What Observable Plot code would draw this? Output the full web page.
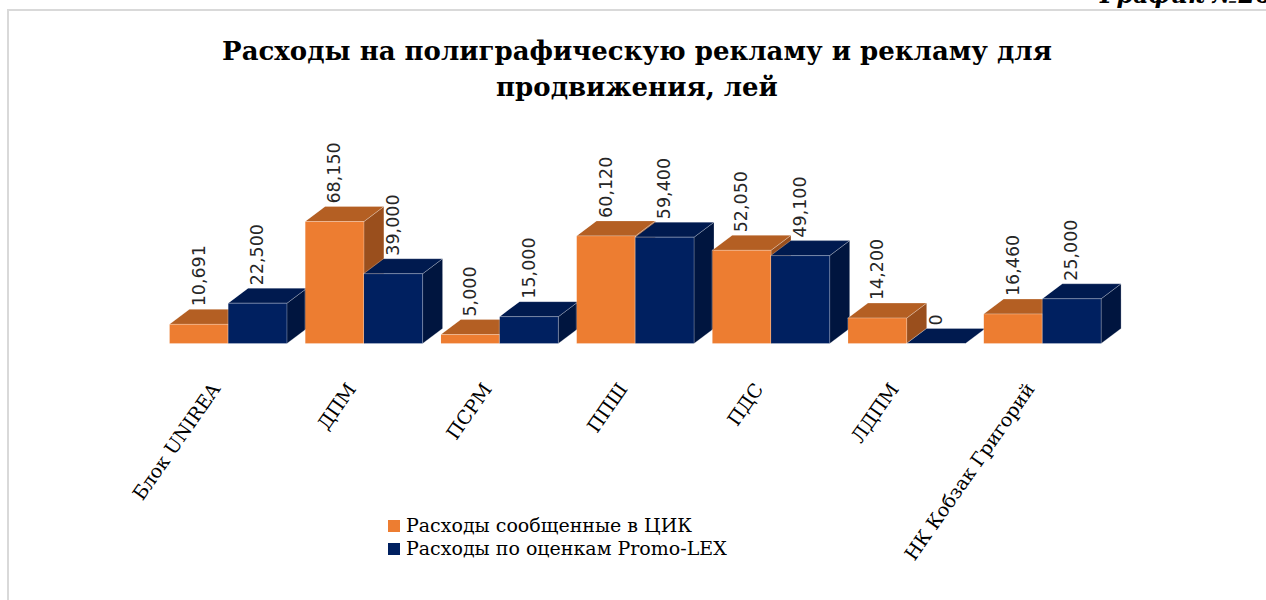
<!DOCTYPE html>
<html><head><meta charset="utf-8">
<script src="https://cdn.jsdelivr.net/npm/d3@7"></script>
<script src="https://cdn.jsdelivr.net/npm/@observablehq/plot@0.6"></script>
<style>
body{margin:0;background:#fff;width:1266px;height:600px;overflow:hidden;position:relative;font-family:"DejaVu Serif",serif}
#frame{position:absolute;left:7px;top:9px;width:1300px;height:620px;border-left:2px solid #d9d9d9;border-top:2px solid #d9d9d9;box-sizing:border-box}
#fig{position:absolute;right:-6px;top:-20px;font:bold italic 24px "DejaVu Serif",serif;color:#000;white-space:nowrap}
#chart{position:absolute;left:0;top:0}
#title{position:absolute;left:0;width:1274px;top:33px;text-align:center;font:bold 26px "DejaVu Serif",serif;line-height:36px;color:#000}
#legend{position:absolute;left:388px;top:514px;font:19px "DejaVu Serif",serif;line-height:23px;color:#000}
#legend div{display:flex;align-items:center;white-space:nowrap}
#legend span.sw{display:inline-block;width:12px;height:12px;margin-right:6px}
</style></head>
<body>
<div id="frame"></div>
<div id="fig">График №26</div>
<div id="chart"></div>
<div id="title">Расходы на полиграфическую рекламу и рекламу для<br>продвижения, лей</div>
<div id="legend"></div>
<script>
const categories = ["Блок UNIREA","ДПМ","ПСРМ","ППШ","ПДС","ЛДПМ","НК Кобзак Григорий"];
const cikValues = [10691,68150,5000,60120,52050,14200,16460];
const promoValues = [22500,39000,15000,59400,49100,0,25000];
const seriesNames = ["Расходы сообщенные в ЦИК","Расходы по оценкам Promo-LEX"];
const frontColors = ["#ED7D31","#002060"];
const topColors = ["#B45F23","#001A4F"];
const sideColors = ["#9A4F1D","#00153F"];

const series = [cikValues, promoValues];
const pad = 0.135, bw = (1 - pad) / 2;
const DX = 0.147, DY = 8380; // depth of the 3D box, in scale units

const polys = [];
const labels = [];
categories.forEach((c, i) => {
  series.forEach((vals, s) => {
    const v = vals[i];
    const x0 = i + pad / 2 + s * bw, x1 = x0 + bw;
    const faces = [
      ["side", sideColors[s], [[x1,0],[x1+DX,DY],[x1+DX,v+DY],[x1,v]]],
      ["top", topColors[s], [[x0,v],[x1,v],[x1+DX,v+DY],[x0+DX,v+DY]]],
      ["front", frontColors[s], [[x0,0],[x1,0],[x1,v],[x0,v]]]
    ];
    faces.forEach(([f, col, pts]) => {
      const id = `${i}-${s}-${f}`;
      pts.forEach(([x, y]) => polys.push({id, x, y, color: col}));
    });
    labels.push({x: (x0 + x1) / 2, y: v + DY, text: d3.format(",")(v)});
  });
});

const chart = Plot.plot({
  width: 1266, height: 600,
  marginLeft: 159.9, marginRight: 156.2, marginTop: 164, marginBottom: 257,
  x: {domain: [0, 7], axis: null},
  y: {domain: [0, 100000], axis: null},
  color: {type: "identity"},
  style: {background: "transparent", overflow: "visible"},
  marks: [
    Plot.line(polys, {x: "x", y: "y", z: "id", fill: "color", stroke: "#ffffff", strokeOpacity: 0.3, strokeWidth: 0.8, curve: "linear-closed"}),
    Plot.text(labels, {x: "x", y: "y", text: "text", rotate: -90, textAnchor: "start", dy: -3, fontSize: 17.5, fontFamily: "DejaVu Sans", fill: "#262626"}),
    Plot.text(categories, {x: (d, i) => i + 0.5, y: () => 0, text: d => d, rotate: -55, textAnchor: "end", dx: -12, dy: 42, fontSize: 19, fontFamily: "DejaVu Serif", fill: "#000"})
  ]
});
document.getElementById("chart").appendChild(chart);

const lg = document.getElementById("legend");
seriesNames.forEach((n, s) => {
  const row = document.createElement("div");
  row.innerHTML = `<span class="sw" style="background:${frontColors[s]}"></span>${n}`;
  lg.appendChild(row);
});
</script>
</body></html>
